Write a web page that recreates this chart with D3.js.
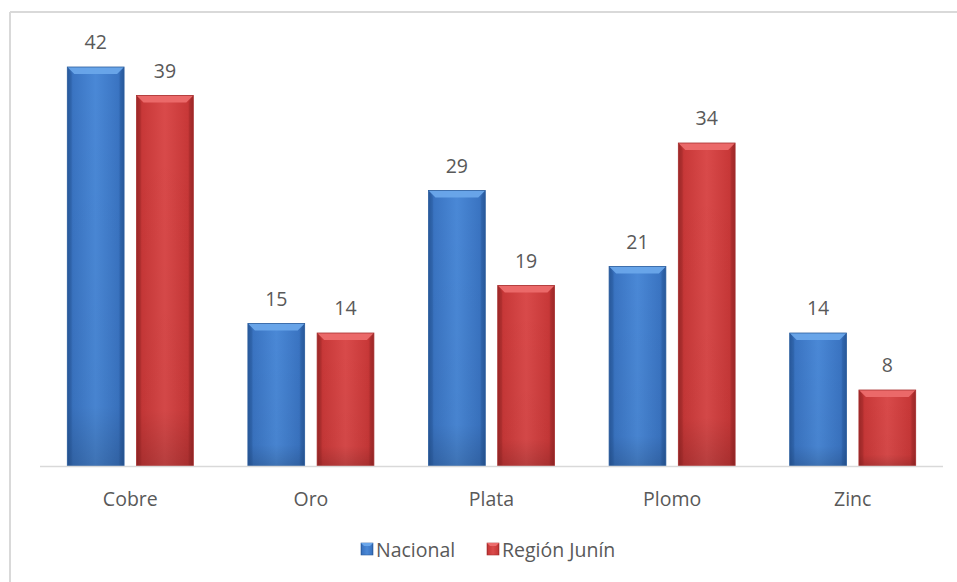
<!DOCTYPE html>
<html>
<head>
<meta charset="utf-8">
<script src="https://cdn.jsdelivr.net/npm/d3@7"></script>
<style>
  html, body { margin: 0; padding: 0; background: #fff; }
  svg { display: block; font-family: "Open Sans", "Noto Sans", sans-serif; }
</style>
</head>
<body>
<svg id="chart" width="957" height="582"></svg>
<script>
// Producción minera: participación por metal
const categories = ["Cobre", "Oro", "Plata", "Plomo", "Zinc"];
const seriesNames = ["Nacional", "Región Junín"];
const nacional = [42, 15, 29, 21, 14];
const regionJunin = [39, 14, 19, 34, 8];
const seriesValues = [nacional, regionJunin];

const W = 957, H = 582;
const svg = d3.select("#chart");

const palette = [
  { main: "#3a74c2", light: "#4a88d6", top: "#6aa6ea", dark: "#28589a", stroke: "#2d5f9f" },
  { main: "#c83838", light: "#d94a4a", top: "#ec6c6c", dark: "#9c2828", stroke: "#a83030" }
];

// Gradients for the bevelled bars
const defs = svg.append("defs");
palette.forEach((p, i) => {
  const g = defs.append("linearGradient").attr("id", "body" + i)
    .attr("x1", "0%").attr("x2", "100%").attr("y1", "0%").attr("y2", "0%");
  g.append("stop").attr("offset", "0%").attr("stop-color", p.dark);
  g.append("stop").attr("offset", "10%").attr("stop-color", p.main);
  g.append("stop").attr("offset", "50%").attr("stop-color", p.light);
  g.append("stop").attr("offset", "90%").attr("stop-color", p.main);
  g.append("stop").attr("offset", "100%").attr("stop-color", p.dark);
  const v = defs.append("linearGradient").attr("id", "shade" + i)
    .attr("x1", "0%").attr("x2", "0%").attr("y1", "0%").attr("y2", "100%");
  v.append("stop").attr("offset", "0%").attr("stop-color", "#000").attr("stop-opacity", 0);
  v.append("stop").attr("offset", "85%").attr("stop-color", "#000").attr("stop-opacity", 0.03);
  v.append("stop").attr("offset", "100%").attr("stop-color", "#000").attr("stop-opacity", 0.16);
});

// Chart frame (left and top edges)
svg.append("line").attr("x1", 10).attr("y1", 12).attr("x2", 10).attr("y2", H)
  .attr("stroke", "#d9d9d9").attr("stroke-width", 2);
svg.append("line").attr("x1", 10).attr("y1", 12).attr("x2", W).attr("y2", 12)
  .attr("stroke", "#d9d9d9").attr("stroke-width", 2);

const x0 = d3.scaleBand().domain(categories).range([40, 943]).padding(0);
const y = d3.scaleLinear().domain([0, 45]).range([466, 38.5]);

const groupHalf = 63;
const x1 = d3.scaleBand().domain(seriesNames).range([-groupHalf, groupHalf]).paddingInner(0.18).paddingOuter(0);

const bevel = 7;
const labelColor = "#595959";

categories.forEach((cat, ci) => {
  const cx = x0(cat) + x0.bandwidth() / 2;
  seriesNames.forEach((s, si) => {
    const v = seriesValues[si][ci];
    const bx = cx + x1(s);
    const bw = x1.bandwidth();
    const top = y(v);
    const base = y(0);
    const p = palette[si];
    const g = svg.append("g");
    g.append("rect").attr("x", bx).attr("y", top).attr("width", bw).attr("height", base - top)
      .attr("fill", `url(#body${si})`);
    g.append("rect").attr("x", bx).attr("y", top).attr("width", bw).attr("height", base - top)
      .attr("fill", `url(#shade${si})`);
    // top bevel
    g.append("path")
      .attr("d", `M${bx},${top} L${bx + bw},${top} L${bx + bw - bevel},${top + bevel} L${bx + bevel},${top + bevel} Z`)
      .attr("fill", p.top).attr("opacity", 0.95);
    // side bevels
    g.append("path")
      .attr("d", `M${bx},${top} L${bx + bevel * 0.6},${top + bevel} L${bx + bevel * 0.6},${base} L${bx},${base} Z`)
      .attr("fill", p.dark).attr("opacity", 0.3);
    g.append("path")
      .attr("d", `M${bx + bw},${top} L${bx + bw - bevel * 0.6},${top + bevel} L${bx + bw - bevel * 0.6},${base} L${bx + bw},${base} Z`)
      .attr("fill", p.dark).attr("opacity", 0.3);
    g.append("rect").attr("x", bx).attr("y", top).attr("width", bw).attr("height", base - top)
      .attr("fill", "none").attr("stroke", p.stroke).attr("stroke-width", 0.8);
    // value label
    svg.append("text").attr("x", bx + bw / 2).attr("y", top - 18)
      .attr("text-anchor", "middle").attr("font-size", 19.5).attr("fill", labelColor)
      .text(v);
  });
});

// Baseline
svg.append("line").attr("x1", 40).attr("x2", 943).attr("y1", y(0) + 0.5).attr("y2", y(0) + 0.5)
  .attr("stroke", "#d9d9d9").attr("stroke-width", 1.5);

// Category axis labels
const xAxis = svg.append("g").attr("transform", `translate(0,${y(0)})`)
  .call(d3.axisBottom(x0).tickSize(0).tickPadding(26));
xAxis.select(".domain").remove();
xAxis.selectAll("text").attr("font-size", 19.5).attr("fill", labelColor)
  .attr("font-family", "'Open Sans', 'Noto Sans', sans-serif");

// Legend
const legendItems = [
  { name: seriesNames[0], x: 361 },
  { name: seriesNames[1], x: 487 }
];
legendItems.forEach((item, i) => {
  const p = palette[i];
  svg.append("rect").attr("x", item.x).attr("y", 543).attr("width", 12).attr("height", 12)
    .attr("fill", `url(#body${i})`).attr("stroke", p.stroke).attr("stroke-width", 0.6);
  svg.append("path")
    .attr("d", `M${item.x},543 L${item.x + 12},543 L${item.x + 9},546 L${item.x + 3},546 Z`)
    .attr("fill", p.top);
  svg.append("text").attr("x", item.x + 15).attr("y", 557)
    .attr("font-size", 19.5).attr("fill", labelColor).text(item.name);
});
</script>
</body>
</html>
